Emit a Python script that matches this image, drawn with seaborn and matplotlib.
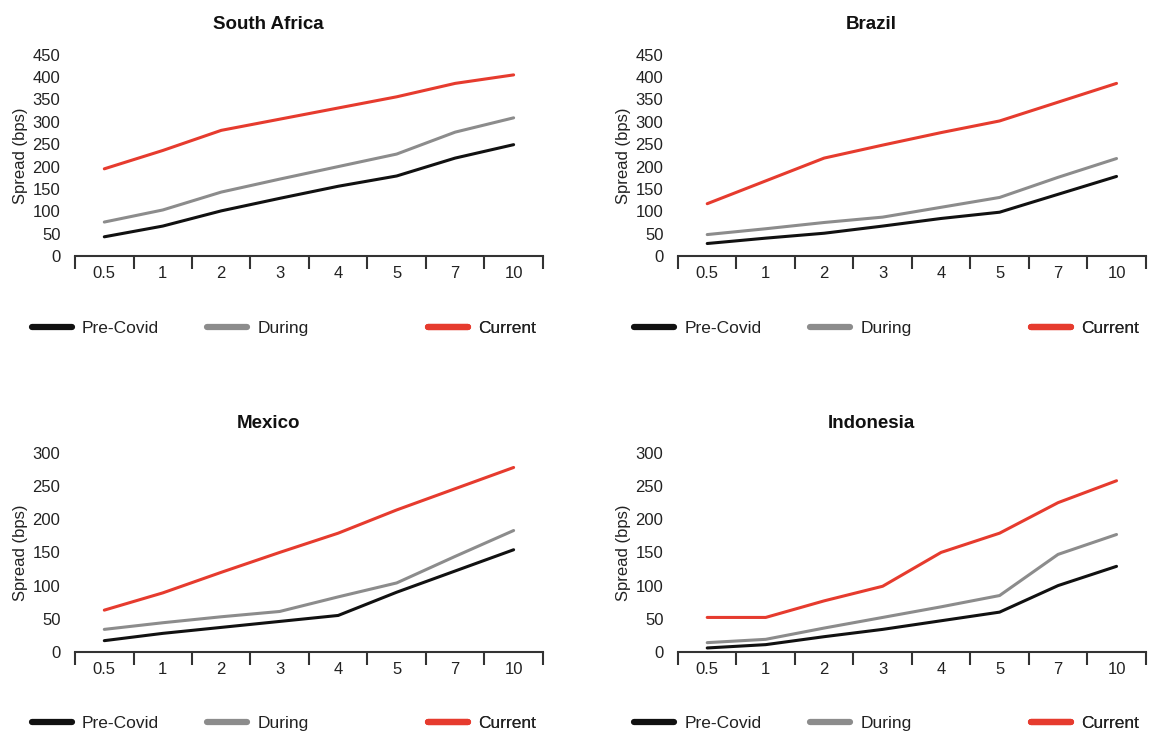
import matplotlib
matplotlib.use("Agg")
import matplotlib.pyplot as plt
from matplotlib.lines import Line2D
from matplotlib.ticker import FixedLocator
import seaborn as sns
import pandas as pd
import numpy as np

# tenor buckets (years)
tenors = ["0.5", "1", "2", "3", "4", "5", "7", "10"]
periods = ["Pre-Covid", "During", "Current"]

# spreads in bps
sa_pre = [43, 67, 101, 129, 156, 179, 219, 249]
sa_during = [76, 103, 143, 172, 200, 228, 277, 309]
sa_current = [195, 236, 281, 306, 331, 356, 386, 405]

br_pre = [28, 40, 51, 67, 84, 98, 138, 178]
br_during = [48, 61, 75, 87, 109, 131, 176, 218]
br_current = [117, 168, 219, 248, 276, 302, 344, 386]

mx_pre = [17, 28, 37, 46, 55, 90, 122, 154]
mx_during = [34, 44, 53, 61, 83, 104, 144, 183]
mx_current = [63, 89, 120, 150, 179, 214, 246, 278]

id_pre = [6, 11, 23, 34, 47, 60, 100, 129]
id_during = [14, 19, 36, 52, 68, 85, 147, 177]
id_current = [52, 52, 77, 99, 150, 179, 225, 258]

countries = ["South Africa", "Brazil", "Mexico", "Indonesia"]
series = {
    "South Africa": [sa_pre, sa_during, sa_current],
    "Brazil": [br_pre, br_during, br_current],
    "Mexico": [mx_pre, mx_during, mx_current],
    "Indonesia": [id_pre, id_during, id_current],
}
y_max = {"South Africa": 450, "Brazil": 450, "Mexico": 300, "Indonesia": 300}

colors = {"Pre-Covid": "#111111", "During": "#8c8c8c", "Current": "#e63b2e"}
text_col = "#222222"

rows = []
for c in countries:
    for p, vals in zip(periods, series[c]):
        for t, v in zip(tenors, vals):
            rows.append({"country": c, "period": p, "tenor": t, "spread": v})
df = pd.DataFrame(rows)

sns.set_style("white")
plt.rcParams["font.family"] = ["Liberation Sans", "DejaVu Sans"]

fig = plt.figure(figsize=(11.55, 7.4), dpi=100)

# axes boxes in figure fractions: left, bottom, width, height
boxes = {
    "South Africa": [0.065, 0.654, 0.405, 0.272],
    "Brazil": [0.587, 0.654, 0.405, 0.272],
    "Mexico": [0.065, 0.119, 0.405, 0.269],
    "Indonesia": [0.587, 0.119, 0.405, 0.269],
}

for c in countries:
    ax = fig.add_axes(boxes[c])
    sub = df[df.country == c]
    sns.lineplot(data=sub, x="tenor", y="spread", hue="period",
                 hue_order=periods, palette=colors, linewidth=2.2,
                 sort=False, legend=False, ax=ax)

    ax.set_xlim(-0.5, len(tenors) - 0.5)
    ax.set_ylim(0, y_max[c])
    ax.set_yticks(np.arange(0, y_max[c] + 1, 50))
    ax.set_xticks(range(len(tenors)))
    ax.set_xticklabels(tenors)
    ax.xaxis.set_minor_locator(FixedLocator(np.arange(-0.5, len(tenors), 1)))
    ax.tick_params(axis="x", which="major", bottom=False, pad=4,
                   labelsize=12, labelcolor=text_col)
    ax.tick_params(axis="x", which="minor", bottom=True, length=9,
                   width=1.5, color="#333333", direction="out")
    ax.tick_params(axis="y", left=False, pad=7, labelsize=12,
                   labelcolor=text_col)

    for s in ["top", "right", "left"]:
        ax.spines[s].set_visible(False)
    ax.spines["bottom"].set_color("#333333")
    ax.spines["bottom"].set_linewidth(1.5)

    ax.set_xlabel("")
    ax.set_ylabel("Spread (bps)", fontsize=12, color=text_col)
    ax.yaxis.set_label_coords(-0.1, 0.5)

    ax.text(0.414, 1.15, c, transform=ax.transAxes, ha="center",
            va="center", fontsize=13.5, fontweight="bold", color="#111111")

    # legend entries spread under the axes like the original
    for p, xpos in zip(periods, [-0.093, 0.283, 0.755]):
        h = Line2D([], [], color=colors[p], linewidth=4.5)
        leg = ax.legend([h], [p], loc="center left",
                        bbox_to_anchor=(xpos, -0.36), frameon=False,
                        handlelength=2.3, handletextpad=0.6,
                        borderaxespad=0, borderpad=0,
                        prop={"size": 12.5})
        for t in leg.get_texts():
            t.set_color(text_col)
        ax.add_artist(leg)

fig.savefig("out.png", dpi=100, facecolor="white")
